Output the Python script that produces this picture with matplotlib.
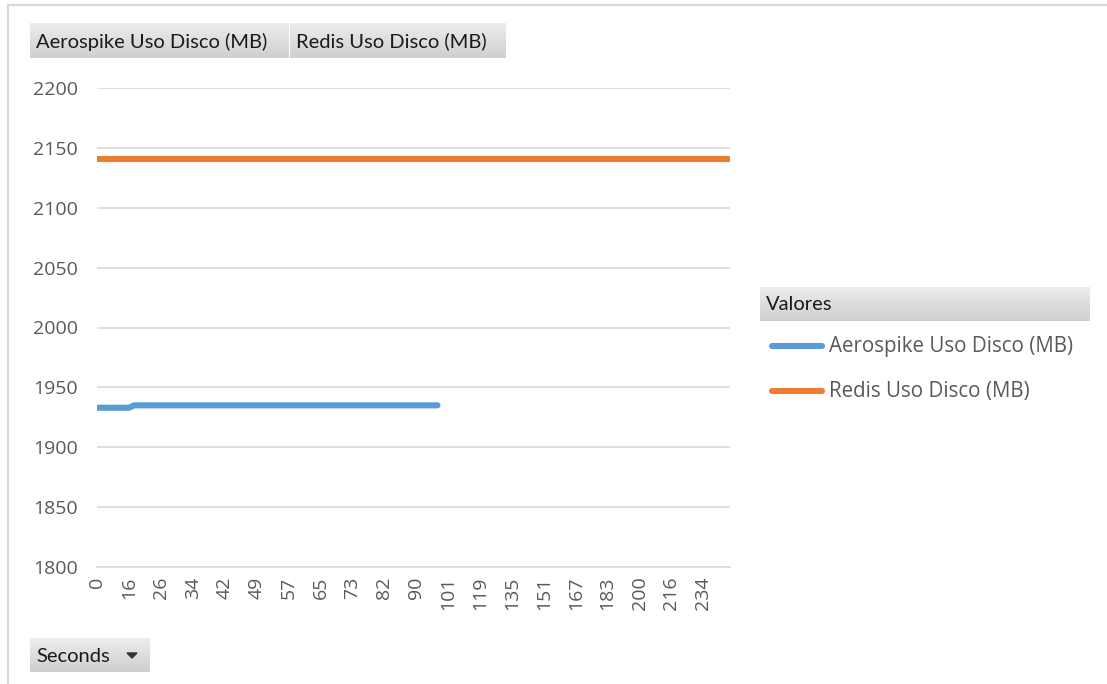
import matplotlib
matplotlib.use("Agg")
import matplotlib.pyplot as plt
import numpy as np
from matplotlib.patches import Polygon
from matplotlib.lines import Line2D

# ---- data ----
tick_seconds = ["0", "16", "26", "34", "42", "49", "57", "65", "73", "82",
                "90", "101", "119", "135", "151", "167", "183", "200", "216", "234"]
tick_every = 6          # one label per 6 samples
n_samples = 120

aerospike_mb = [
    1933, 1933, 1933, 1933, 1933, 1933, 1933, 1935, 1935, 1935,
    1935, 1935, 1935, 1935, 1935, 1935, 1935, 1935, 1935, 1935,
    1935, 1935, 1935, 1935, 1935, 1935, 1935, 1935, 1935, 1935,
    1935, 1935, 1935, 1935, 1935, 1935, 1935, 1935, 1935, 1935,
    1935, 1935, 1935, 1935, 1935, 1935, 1935, 1935, 1935, 1935,
    1935, 1935, 1935, 1935, 1935, 1935, 1935, 1935, 1935, 1935,
    1935, 1935, 1935, 1935, 1935,
]
redis_mb = [
    2141, 2141, 2141, 2141, 2141, 2141, 2141, 2141, 2141, 2141,
    2141, 2141, 2141, 2141, 2141, 2141, 2141, 2141, 2141, 2141,
    2141, 2141, 2141, 2141, 2141, 2141, 2141, 2141, 2141, 2141,
    2141, 2141, 2141, 2141, 2141, 2141, 2141, 2141, 2141, 2141,
    2141, 2141, 2141, 2141, 2141, 2141, 2141, 2141, 2141, 2141,
    2141, 2141, 2141, 2141, 2141, 2141, 2141, 2141, 2141, 2141,
    2141, 2141, 2141, 2141, 2141, 2141, 2141, 2141, 2141, 2141,
    2141, 2141, 2141, 2141, 2141, 2141, 2141, 2141, 2141, 2141,
    2141, 2141, 2141, 2141, 2141, 2141, 2141, 2141, 2141, 2141,
    2141, 2141, 2141, 2141, 2141, 2141, 2141, 2141, 2141, 2141,
    2141, 2141, 2141, 2141, 2141, 2141, 2141, 2141, 2141, 2141,
    2141, 2141, 2141, 2141, 2141, 2141, 2141, 2141, 2141, 2141,
]
series_names = ["Aerospike Uso Disco (MB)", "Redis Uso Disco (MB)"]
legend_title = "Valores"
axis_field = "Seconds"
y_ticks = [1800, 1850, 1900, 1950, 2000, 2050, 2100, 2150, 2200]

BLUE = "#5B9BD5"
ORANGE = "#ED7D31"
GRID = "#d9d9d9"
LABEL = "#595959"
FONT_AX = ["Open Sans", "DejaVu Sans"]
FONT_BTN = ["Lato", "DejaVu Sans"]

W, H = 1107, 684
fig = plt.figure(figsize=(W / 100, H / 100), dpi=100)
fig.patch.set_facecolor("white")


def fx(x):
    return x / W


def fy(y):
    return 1 - y / H


# chart area border (left and top)
fig.add_artist(Line2D([fx(8), fx(8)], [fy(5), fy(684)], color=GRID, lw=1.5))
fig.add_artist(Line2D([fx(8), fx(1107)], [fy(5), fy(5)], color=GRID, lw=1.5))

# main axes
ax = fig.add_axes([fx(97), fy(567), fx(730) - fx(97), fy(88) - fy(567)])
x_a = np.arange(len(aerospike_mb))
x_r = np.arange(len(redis_mb))
ax.plot(x_r, redis_mb, color=ORANGE, lw=4.4, solid_capstyle="round", zorder=3)
ax.plot(x_a, aerospike_mb, color=BLUE, lw=4.4, solid_capstyle="round", zorder=3)
ax.set_xlim(0, n_samples - 1)
ax.set_ylim(1800, 2200)
ax.set_yticks(y_ticks)
ax.set_yticklabels([str(v) for v in y_ticks], fontsize=14, color=LABEL, family=FONT_AX)
ax.yaxis.grid(True, color=GRID, lw=1.2)
ax.set_axisbelow(True)
ticks_pos = [i * tick_every for i in range(len(tick_seconds))]
ax.set_xticks(ticks_pos)
ax.set_xticklabels(tick_seconds, rotation=90, fontsize=14, color=LABEL, family=FONT_AX,
                   va="top")
ax.tick_params(axis="both", length=0)
ax.tick_params(axis="y", pad=14)
ax.tick_params(axis="x", pad=7)
for s in ["top", "right", "left"]:
    ax.spines[s].set_visible(False)
ax.spines["bottom"].set_color(GRID)
ax.spines["bottom"].set_linewidth(1.2)
ax.set_facecolor("none")

# gradient buttons
grad = np.linspace(0, 1, 64).reshape(-1, 1)
cmap = matplotlib.colors.LinearSegmentedColormap.from_list("btn", ["#ededed", "#cfcfcf"])


def button(x0, y0, x1, y1, text, tx, arrow=False):
    bax = fig.add_axes([fx(x0), fy(y1), fx(x1) - fx(x0), fy(y0) - fy(y1)])
    bax.imshow(grad, aspect="auto", cmap=cmap, extent=[0, 1, 0, 1], origin="upper")
    bax.set_xlim(0, 1)
    bax.set_ylim(0, 1)
    bax.axis("off")
    fig.text(fx(tx), fy((y0 + y1) / 2 + 1), text, fontsize=14.5, color="#1a1a1a",
             family=FONT_BTN, va="center", ha="left")
    if arrow:
        cx, cy = 132, (y0 + y1) / 2
        tri = Polygon([[fx(cx - 5), fy(cy - 2)], [fx(cx + 5), fy(cy - 2)], [fx(cx), fy(cy + 3)]],
                      closed=True, color="#333333", transform=fig.transFigure)
        fig.add_artist(tri)


button(30, 23, 288, 58, series_names[0], 36)
button(290, 23, 506, 58, series_names[1], 296)
button(760, 287, 1090, 321, legend_title, 766)
button(30, 638, 150, 672, axis_field, 36, arrow=True)

# legend entries
for i, (name, col) in enumerate(zip(series_names, [BLUE, ORANGE])):
    yy = 346 + i * 45
    fig.add_artist(Line2D([fx(772), fx(822)], [fy(yy), fy(yy)], color=col, lw=4.4,
                          solid_capstyle="round"))
    fig.text(fx(829), fy(yy), name, fontsize=14.8, color=LABEL, family=FONT_AX,
             va="center", ha="left")

fig.savefig("out.png", dpi=100)
